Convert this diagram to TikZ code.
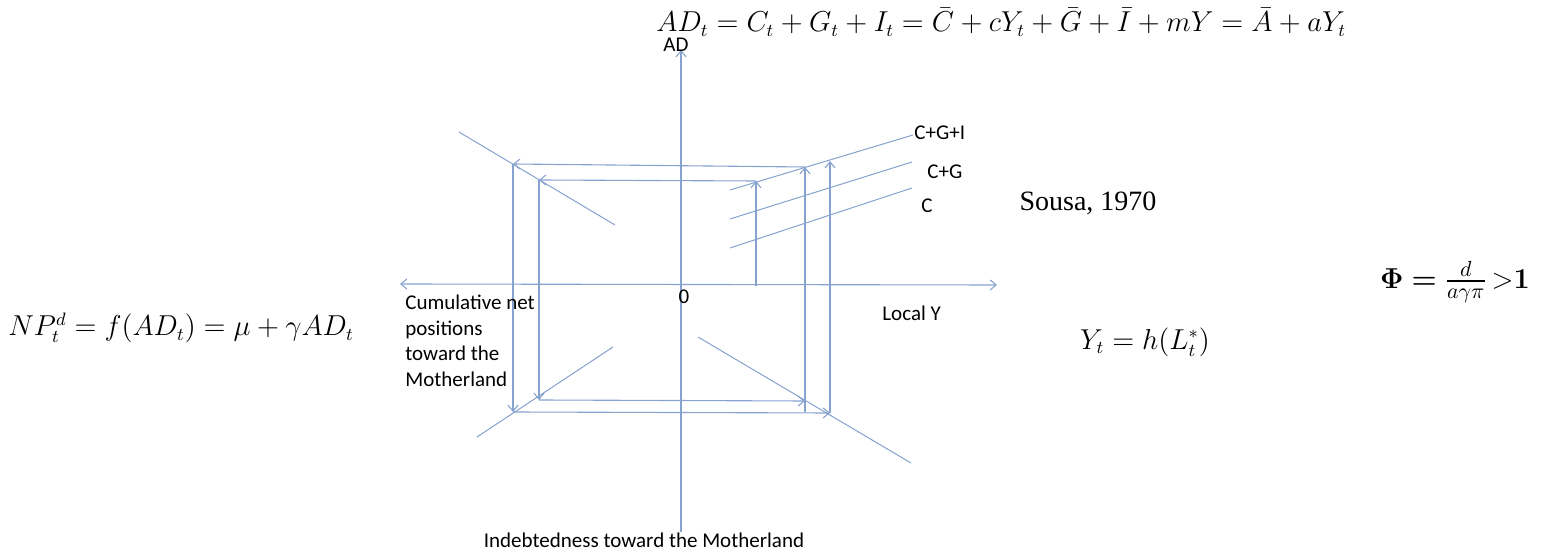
\documentclass[tikz,border=0pt]{standalone}
\usepackage{amsmath}
\usepackage[no-math]{fontspec}
\setmainfont{Carlito}
\newfontfamily\timesfont{Liberation Serif}
\usetikzlibrary{arrows.meta}
\definecolor{lineblue}{HTML}{86A2CE}

\begin{document}
\begin{tikzpicture}[
    x=0.5pt, y=-0.5pt,
    >={Straight Barb[length=3pt,width=5pt]},
    axis/.style={draw=lineblue, line width=0.55pt},
    curve/.style={draw=lineblue, line width=0.5pt},
    flow/.style={draw=lineblue, line width=0.55pt, ->},
    lbl/.style={font=\fontsize{10.5}{12.75}\selectfont, inner sep=0pt},
    eq/.style={font=\fontsize{13.5}{16}\selectfont, inner sep=0pt},
]
\useasboundingbox (0,0) rectangle (1554,550);

% axes
\coordinate (ytop) at (681,50);
\coordinate (ybot) at (681,532);
\coordinate (xleft) at (400,284);
\coordinate (xright) at (997,285);
\draw [axis, ->] (ybot) -- (ytop);
\draw [axis, <->] (xleft) -- (xright);

% demand schedules
\draw [curve] (730,190) -- (913,135);
\draw [curve] (730,219) -- (912,162);
\draw [curve] (730,248) -- (912,188);

% quadrant lines
\draw [curve] (459,132) -- (615,225);
\draw [curve] (477,437) -- (613,347);
\draw [curve] (698,337) -- (911,463);

% first round
\coordinate (a1) at (756,286);
\coordinate (a2) at (756,181);
\coordinate (a3) at (539,180);
\coordinate (a4) at (539,400);
\coordinate (a5) at (805,401);
\draw [flow] (a1) -- (a2);
\draw [flow] (a2) -- (a3);
\draw [flow] (a3) -- (a4);
\draw [flow] (a4) -- (a5);

% second round
\coordinate (b0) at (805,412);
\coordinate (b1) at (805,167);
\coordinate (b2) at (513,164);
\coordinate (b3) at (513,412);
\coordinate (b4) at (830,413);
\coordinate (b5) at (830,161);
\draw [flow] (b0) -- (b1);
\draw [flow] (b1) -- (b2);
\draw [flow] (b2) -- (b3);
\draw [flow] (b3) -- (b4);
\draw [flow] (b4) -- (b5);

% labels
\node [lbl] (adlab) at (676,45) {AD};
\node [lbl] (zero) at (684,297) {0};
\node [lbl, anchor=west] (lcgi) at (914,133) {C+G+I};
\node [lbl, anchor=west] (lcg) at (927,172) {C+G};
\node [lbl, anchor=west] (lc) at (921,206) {C};
\node [lbl, anchor=west] (localy) at (882,313) {Local Y};
\node [lbl, anchor=north west, align=left] (cumnet) at (405,295) {Cumulative net\\positions\\toward the\\Motherland};
\node [lbl] (debt) at (644,540) {Indebtedness toward the Motherland};
\node [font=\timesfont\fontsize{14}{16}\selectfont, inner sep=0pt] (sousa) at (1088,203) {Sousa, 1970};

% equations
\node [eq, anchor=base west] (adeq) at (656,32) {$AD_t = C_t + G_t + I_t = \bar{C} + cY_t + \bar{G} + \bar{I} + mY = \bar{A} + aY_t$};
\node [eq, anchor=west] (npeq) at (8,328) {$NP_t^d = f(AD_t) = \mu + \gamma AD_t$};
\node [eq] (yeq) at (1145,342) {$Y_t = h(L_t^*)$};
\node [eq, font=\fontsize{15}{18}\selectfont] (phieq) at (1455,282) {$\boldsymbol{\Phi} \mathrel{\boldsymbol{=}} \frac{d}{a\gamma\pi}\,{>}\mathbf{1}$};
\end{tikzpicture}
\end{document}
